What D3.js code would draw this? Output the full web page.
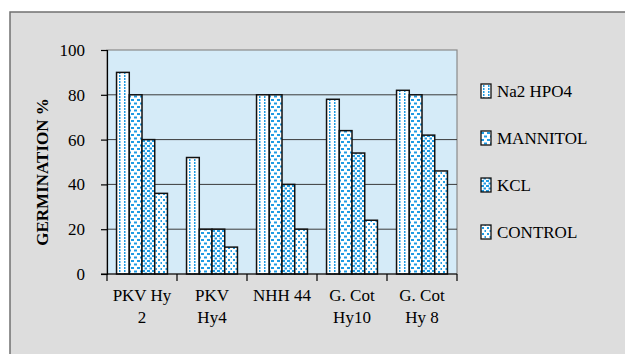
<!DOCTYPE html>
<html>
<head>
<meta charset="utf-8">
<script src="https://cdn.jsdelivr.net/npm/d3@7"></script>
<style>
  html, body { margin: 0; padding: 0; background: #fff; }
  svg { display: block; font-family: 'Liberation Serif', 'Times New Roman', serif; }
</style>
</head>
<body>
<div id="chart"></div>
<script>
// Données
const categories = ["PKV Hy 2", "PKV Hy4", "NHH 44", "G. Cot Hy10", "G. Cot Hy 8"];
const catLines = [["PKV Hy", "2"], ["PKV", "Hy4"], ["NHH 44"], ["G. Cot", "Hy10"], ["G. Cot", "Hy 8"]];
const series = ["Na2 HPO4", "MANNITOL", "KCL", "CONTROL"];
const na2hpo4 = [90, 52, 80, 78, 82];
const mannitol = [80, 20, 80, 64, 80];
const kcl = [60, 20, 40, 54, 62];
const control = [36, 12, 20, 24, 46];
const yTicks = [0, 20, 40, 60, 80, 100];

const values = [na2hpo4, mannitol, kcl, control];
const data = categories.map((c, i) => ({
  cat: c,
  vals: series.map((s, j) => ({ s, j, v: values[j][i] }))
}));

const width = 625, height = 354;
const font = "'Liberation Serif', 'Times New Roman', serif";
const blue = "#1f9be3";

const svg = d3.select("#chart").append("svg")
  .attr("width", width).attr("height", height);

// Motifs
const defs = svg.append("defs");
function pattern(id, w, h, marks) {
  const p = defs.append("pattern").attr("id", id)
    .attr("patternUnits", "userSpaceOnUse")
    .attr("width", w).attr("height", h);
  p.append("rect").attr("width", w).attr("height", h).attr("fill", "#fff");
  marks.forEach(m => p.append("rect")
    .attr("x", m[0]).attr("y", m[1]).attr("width", m[2]).attr("height", m[3])
    .attr("fill", blue));
}
pattern("p0", 5, 3, [[2, 0, 1.5, 2]]);
pattern("p1", 6, 7, [[0, 1, 3, 2], [3, 4.5, 3, 2]]);
pattern("p2", 5, 5, [[0, 0, 3, 2], [2.5, 2.5, 3, 2]]);
pattern("p3", 5, 6, [[1, 1, 2, 2], [3.5, 4, 2, 2]]);

// Cadre extérieur
svg.append("rect")
  .attr("x", 10).attr("y", 12)
  .attr("width", 700).attr("height", 400)
  .attr("fill", "#dddddd")
  .attr("stroke", "#707070").attr("stroke-width", 1.5);

const pLeft = 107, pRight = 457, pTop = 50, pBottom = 274;

const x0 = d3.scaleBand().domain(categories).range([pLeft, pRight]).paddingInner(0).paddingOuter(0);
const x1 = d3.scaleBand().domain(series).range([0, x0.bandwidth()]).paddingInner(0).paddingOuter(0.75);
const y = d3.scaleLinear().domain([0, 100]).range([pBottom, pTop]);

// Zone de tracé
svg.append("rect")
  .attr("x", pLeft).attr("y", pTop)
  .attr("width", pRight - pLeft).attr("height", pBottom - pTop)
  .attr("fill", "#d5ebf8")
  .attr("stroke", "#8a8a8a").attr("stroke-width", 1.2);

// Grille
svg.selectAll(".grid")
  .data(yTicks.filter(d => d > 0 && d < 100))
  .enter().append("line")
  .attr("x1", pLeft).attr("x2", pRight)
  .attr("y1", d => y(d)).attr("y2", d => y(d))
  .attr("stroke", "#3a3a3a").attr("stroke-width", 1);

// Barres
const groups = svg.selectAll(".grp").data(data).enter().append("g")
  .attr("transform", d => `translate(${x0(d.cat)},0)`);

groups.selectAll("rect").data(d => d.vals).enter().append("rect")
  .attr("x", d => x1(d.s))
  .attr("y", d => y(d.v))
  .attr("width", x1.bandwidth())
  .attr("height", d => y(0) - y(d.v))
  .attr("fill", d => `url(#p${d.j})`)
  .attr("stroke", "#111").attr("stroke-width", 1.5);

// Axe Y
svg.append("g")
  .attr("transform", `translate(${pLeft},0)`)
  .call(d3.axisLeft(y).tickValues(yTicks).tickSize(6).tickPadding(16))
  .attr("font-family", font)
  .attr("font-size", 17)
  .call(ax => ax.select(".domain").attr("stroke", "#000").attr("stroke-width", 1.2))
  .call(ax => ax.selectAll("line").attr("stroke", "#000").attr("stroke-width", 1.2))
  .selectAll("text")
  .attr("fill", "#000");

// Axe X
svg.append("line")
  .attr("x1", pLeft - 6).attr("x2", pRight)
  .attr("y1", pBottom).attr("y2", pBottom)
  .attr("stroke", "#000").attr("stroke-width", 1.2);

const bounds = categories.map(c => x0(c)).concat([pRight]);
svg.selectAll(".xtick").data(bounds).enter().append("line")
  .attr("x1", d => d).attr("x2", d => d)
  .attr("y1", pBottom).attr("y2", pBottom + 7)
  .attr("stroke", "#000").attr("stroke-width", 1.2);

const xl = svg.selectAll(".xlab").data(categories).enter().append("text")
  .attr("x", d => x0(d) + x0.bandwidth() / 2)
  .attr("y", 301)
  .attr("text-anchor", "middle")
  .attr("font-size", "17px")
  .attr("font-family", font)
  .attr("fill", "#000");
xl.each(function(d, i) {
  const t = d3.select(this);
  catLines[i].forEach((line, k) => {
    t.append("tspan")
      .attr("x", x0(d) + x0.bandwidth() / 2)
      .attr("dy", k === 0 ? 0 : 22)
      .text(line);
  });
});

// Titre axe Y
svg.append("text")
  .attr("transform", "translate(48,172) rotate(-90)")
  .attr("text-anchor", "middle")
  .attr("font-size", "17px")
  .attr("font-weight", "700")
  .attr("font-family", font)
  .attr("fill", "#000")
  .text("GERMINATION %");

// Légende
const leg = svg.selectAll(".leg").data(series).enter().append("g")
  .attr("transform", (d, i) => `translate(481,${91 + i * 47})`);
leg.append("rect")
  .attr("x", 0).attr("y", -7)
  .attr("width", 10).attr("height", 14)
  .attr("fill", (d, i) => `url(#p${i})`)
  .attr("stroke", "#111").attr("stroke-width", 1.3);
leg.append("text")
  .attr("x", 16).attr("y", 6)
  .attr("font-size", "17px")
  .attr("font-family", font)
  .attr("fill", "#000")
  .text(d => d);
</script>
</body>
</html>
